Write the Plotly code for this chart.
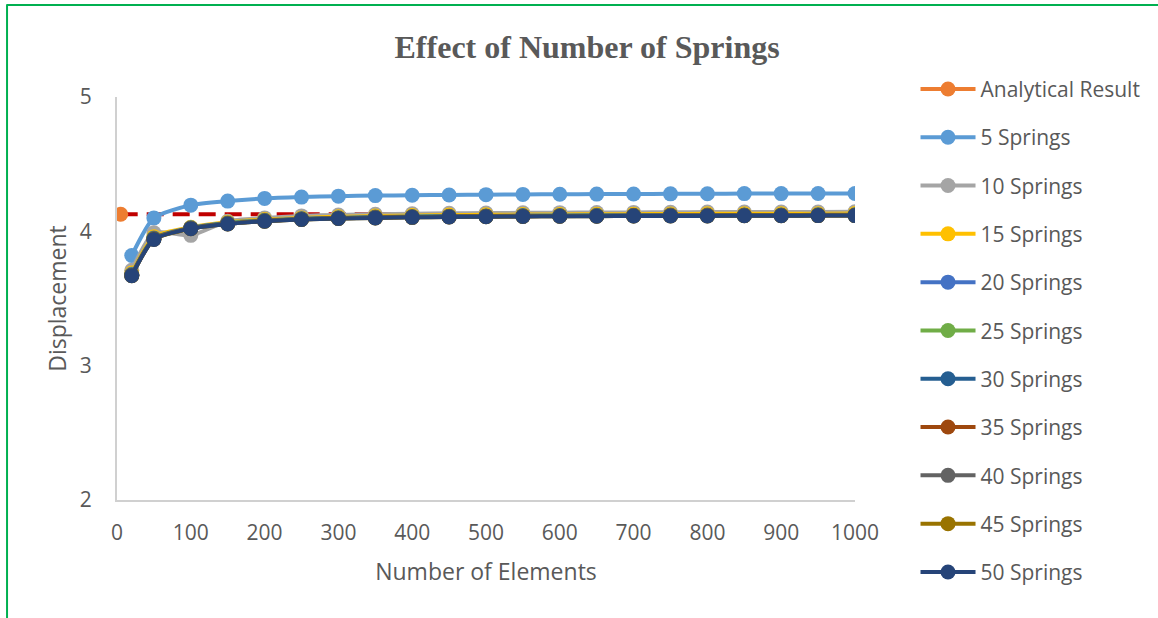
import plotly.graph_objects as go

elements = [20, 50, 100, 150, 200, 250, 300, 350, 400, 450, 500, 550, 600, 650, 700, 750, 800, 850, 900, 950, 1000]

analytical_x = [5]
analytical_y = [4.127]
analytical_line_x = [5, 1000]
analytical_line_y = [4.127, 4.127]

s5 = [3.82, 4.10, 4.195, 4.225, 4.245, 4.255, 4.262, 4.266, 4.269, 4.271, 4.273, 4.275, 4.276, 4.277, 4.278, 4.279, 4.280, 4.281, 4.281, 4.282, 4.282]
s10 = [3.71, 3.99, 3.97, 4.075, 4.10, 4.115, 4.122, 4.127, 4.131, 4.134, 4.136, 4.138, 4.139, 4.140, 4.141, 4.142, 4.143, 4.143, 4.144, 4.144, 4.145]
s15 = [3.69, 3.96, 4.03, 4.068, 4.088, 4.100, 4.108, 4.114, 4.118, 4.121, 4.123, 4.125, 4.126, 4.127, 4.128, 4.129, 4.130, 4.130, 4.131, 4.131, 4.132]
s20 = [3.68, 3.95, 4.026, 4.062, 4.082, 4.094, 4.101, 4.106, 4.110, 4.113, 4.115, 4.117, 4.118, 4.119, 4.120, 4.121, 4.121, 4.122, 4.122, 4.123, 4.123]
s25 = [3.675, 3.947, 4.024, 4.060, 4.080, 4.092, 4.099, 4.104, 4.108, 4.111, 4.113, 4.115, 4.116, 4.117, 4.118, 4.119, 4.119, 4.120, 4.120, 4.121, 4.121]
s30 = [3.673, 3.945, 4.023, 4.058, 4.078, 4.091, 4.098, 4.103, 4.107, 4.110, 4.112, 4.114, 4.115, 4.116, 4.117, 4.118, 4.118, 4.119, 4.119, 4.120, 4.120]
s35 = [3.672, 3.943, 4.022, 4.057, 4.077, 4.090, 4.097, 4.102, 4.106, 4.109, 4.111, 4.113, 4.114, 4.115, 4.116, 4.117, 4.117, 4.118, 4.118, 4.119, 4.119]
s40 = [3.671, 3.942, 4.021, 4.056, 4.076, 4.089, 4.096, 4.101, 4.105, 4.108, 4.110, 4.112, 4.113, 4.114, 4.115, 4.116, 4.116, 4.117, 4.117, 4.118, 4.118]
s45 = [3.670, 3.941, 4.020, 4.055, 4.075, 4.088, 4.095, 4.100, 4.104, 4.107, 4.109, 4.111, 4.112, 4.113, 4.114, 4.115, 4.115, 4.116, 4.116, 4.117, 4.117]
s50 = [3.670, 3.940, 4.020, 4.055, 4.075, 4.088, 4.095, 4.100, 4.104, 4.107, 4.109, 4.111, 4.112, 4.113, 4.114, 4.115, 4.115, 4.116, 4.116, 4.117, 4.117]

series_names = ["5 Springs", "10 Springs", "15 Springs", "20 Springs", "25 Springs",
                "30 Springs", "35 Springs", "40 Springs", "45 Springs", "50 Springs"]
series_values = [s5, s10, s15, s20, s25, s30, s35, s40, s45, s50]
series_colors = ["#5B9BD5", "#A5A5A5", "#FFC000", "#4472C4", "#70AD47",
                 "#255E91", "#9E480E", "#636363", "#997300", "#264478"]

y_ticks = [2, 3, 4, 5]
x_ticks = [0, 100, 200, 300, 400, 500, 600, 700, 800, 900, 1000]

FONT = "Open Sans, Liberation Sans, sans-serif"

fig = go.Figure()

# analytical reference (dashed)
fig.add_trace(go.Scatter(x=analytical_line_x, y=analytical_line_y, mode="lines",
                         line=dict(color="#C00000", width=4, dash="17px,9px"),
                         showlegend=False, hoverinfo="skip"))

fig.add_trace(go.Scatter(x=analytical_x, y=analytical_y, mode="lines+markers",
                         name="Analytical Result", legendgroup="a",
                         line=dict(color="#ED7D31", width=4),
                         marker=dict(color="#ED7D31", size=15)))

for name, vals, col in zip(series_names, series_values, series_colors):
    fig.add_trace(go.Scatter(x=elements, y=vals, mode="lines+markers", name=name,
                             legendgroup=name,
                             line=dict(color=col, width=4, shape="spline", smoothing=0.6),
                             marker=dict(color=col, size=15)))

axis_font = dict(family=FONT, size=21, color="#595959")
title_font = dict(family=FONT, size=23, color="#595959")

fig.update_layout(
    width=1158, height=618,
    margin=dict(l=117, r=303, t=97, b=118),
    paper_bgcolor="white", plot_bgcolor="white",
    title=dict(text="<b>Effect of Number of Springs</b>", x=0.507, xanchor="center",
               y=0.925, yanchor="middle",
               font=dict(family="Liberation Serif, Times New Roman, serif", size=32, color="#595959")),
    xaxis=dict(range=[0, 1000], tickvals=x_ticks, showgrid=False, zeroline=False,
               showline=True, linecolor="#D0D0D0", linewidth=2,
               ticks="", tickfont=axis_font, ticklabelstandoff=13,
               title=dict(text="Number of Elements", font=title_font, standoff=19)),
    yaxis=dict(range=[2, 5], tickvals=y_ticks, showgrid=False, zeroline=False,
               showline=True, linecolor="#D0D0D0", linewidth=2,
               ticks="", tickfont=axis_font, ticklabelstandoff=19,
               title=dict(text="Displacement", font=title_font, standoff=7)),
    legend=dict(x=1.082, xanchor="left", y=1.07, yanchor="top",
                font=dict(family=FONT, size=21, color="#595959"),
                tracegroupgap=18, itemwidth=55, bgcolor="rgba(0,0,0,0)",
                maxheight=610),
    shapes=[
        dict(type="line", xref="paper", yref="paper", x0=-0.149, x1=-0.149, y0=-0.3, y1=1.23,
             line=dict(color="#00B050", width=2)),
        dict(type="line", xref="paper", yref="paper", x0=-0.149, x1=1.42, y0=1.228, y1=1.228,
             line=dict(color="#00B050", width=2)),
    ],
)

fig.write_html("out.html")
